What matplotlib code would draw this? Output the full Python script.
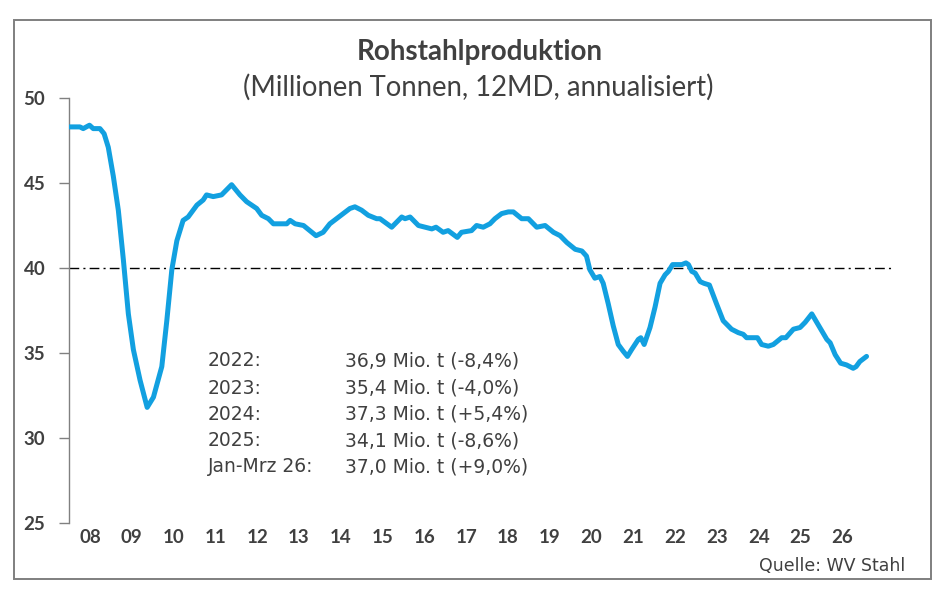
import matplotlib
matplotlib.use("Agg")
import matplotlib.pyplot as plt
from matplotlib.patches import Rectangle

# ---- data (x in years on the chart's axis, value in Mio. t) ----
years = [2008.01, 2008.26, 2008.34, 2008.49, 2008.58, 2008.74, 2008.84, 2008.94,
         2009.06, 2009.18, 2009.30, 2009.42, 2009.54, 2009.70, 2009.87, 2010.02,
         2010.22, 2010.34, 2010.46, 2010.58, 2010.73, 2010.85, 2011.06, 2011.21,
         2011.29, 2011.45, 2011.65, 2011.89, 2012.09, 2012.25, 2012.49, 2012.61,
         2012.77, 2012.89, 2013.21, 2013.29, 2013.41, 2013.61, 2013.91, 2014.08,
         2014.24, 2014.40, 2014.72, 2014.84, 2015.00, 2015.16, 2015.36, 2015.44,
         2015.72, 2015.96, 2016.04, 2016.16, 2016.36, 2016.68, 2016.78, 2016.95,
         2017.07, 2017.29, 2017.39, 2017.63, 2017.75, 2017.91, 2018.07, 2018.19,
         2018.35, 2018.51, 2018.63, 2018.83, 2018.99, 2019.19, 2019.39, 2019.59,
         2019.75, 2019.91, 2020.11, 2020.27, 2020.38, 2020.46, 2020.58, 2020.70,
         2020.78, 2020.90, 2021.02, 2021.14, 2021.26, 2021.36, 2021.46, 2021.62,
         2021.68, 2021.76, 2021.90, 2022.02, 2022.14, 2022.26, 2022.34, 2022.44,
         2022.54, 2022.66, 2022.76, 2022.82, 2022.90, 2022.98, 2023.10, 2023.19,
         2023.32, 2023.49, 2023.65, 2023.85, 2024.01, 2024.13, 2024.21, 2024.47,
         2024.57, 2024.73, 2024.85, 2025.05, 2025.15, 2025.33, 2025.49, 2025.61,
         2025.77, 2025.89, 2026.01, 2026.13, 2026.21, 2026.33, 2026.46, 2026.60,
         2026.76, 2026.83, 2026.92, 2027.08]
values = [48.3, 48.3, 48.2, 48.4, 48.2, 48.2, 47.9, 47.1,
          45.4, 43.4, 40.5, 37.3, 35.2, 33.4, 31.8, 32.4,
          34.2, 36.9, 39.9, 41.6, 42.8, 43.0, 43.7, 44.0,
          44.3, 44.2, 44.3, 44.9, 44.3, 43.9, 43.5, 43.1,
          42.9, 42.6, 42.6, 42.8, 42.6, 42.5, 41.9, 42.1,
          42.6, 42.9, 43.5, 43.6, 43.4, 43.1, 42.9, 42.9,
          42.4, 43.0, 42.9, 43.0, 42.5, 42.3, 42.4, 42.1,
          42.2, 41.8, 42.1, 42.2, 42.5, 42.4, 42.6, 42.9,
          43.2, 43.3, 43.3, 42.9, 42.9, 42.4, 42.5, 42.1,
          41.9, 41.5, 41.1, 41.0, 40.7, 39.9, 39.4, 39.5,
          39.1, 37.9, 36.6, 35.5, 35.1, 34.8, 35.2, 35.8,
          35.9, 35.5, 36.5, 37.7, 39.1, 39.6, 39.8, 40.2,
          40.2, 40.2, 40.3, 40.2, 39.8, 39.7, 39.2, 39.1,
          39.0, 37.9, 36.9, 36.4, 36.2, 36.1, 35.9, 35.9,
          35.5, 35.4, 35.5, 35.9, 35.9, 36.4, 36.5, 36.8,
          37.3, 36.8, 36.3, 35.8, 35.6, 34.9, 34.4, 34.3,
          34.1, 34.2, 34.5, 34.8]

tick_years = list(range(2008, 2027))
tick_labels = ["08", "09", "10", "11", "12", "13", "14", "15", "16", "17",
               "18", "19", "20", "21", "22", "23", "24", "25", "26"]
y_ticks = [25, 30, 35, 40, 45, 50]
ref_level = 40

note_labels = ["2022:", "2023:", "2024:", "2025:", "Jan-Mrz 26:"]
note_values = ["36,9 Mio. t (-8,4%)", "35,4 Mio. t (-4,0%)", "37,3 Mio. t (+5,4%)",
               "34,1 Mio. t (-8,6%)", "37,0 Mio. t (+9,0%)"]

title = "Rohstahlproduktion"
subtitle = "(Millionen Tonnen, 12MD, annualisiert)"
source = "Quelle: WV Stahl"

# ---- figure ----
plt.rcParams['font.family'] = ['Lato', 'DejaVu Sans']
W, H = 947, 592
fig = plt.figure(figsize=(W / 100, H / 100), dpi=100)
txt = "#404040"
grey = "#808080"
wide = ['DejaVu Sans']

# outer frame
fig.patches.append(Rectangle((14 / W, 1 - 579 / H), (931 - 14) / W, (579 - 19.5) / H,
                             transform=fig.transFigure, fill=False,
                             edgecolor="#7f7f7f", linewidth=1.4))

ax = fig.add_axes([69 / W, 1 - 523 / H, (892 - 69) / W, (523 - 98) / H])
ax.plot(years, values, color="#12A0E0", linewidth=3.6, solid_capstyle="round",
        solid_joinstyle="round", zorder=3)
ax.axhline(ref_level, color="black", linewidth=1.0, linestyle=(0, (7, 3, 1.5, 3)), zorder=2)

ax.set_xlim(2008.0, 2008.0 + (892 - 69) / 41.8)
ax.set_ylim(25, 50)
ax.set_yticks(y_ticks)
ax.set_yticklabels([str(v) for v in y_ticks], fontsize=13.5, fontweight="bold", color=txt)
ax.set_xticks([y + 0.5 for y in tick_years])
ax.set_xticklabels(tick_labels, fontsize=13.5, fontweight="bold", color=txt)
ax.tick_params(axis="x", length=0, pad=4)
ax.tick_params(axis="y", length=7, color=grey, width=1, pad=10)
for s in ["top", "right", "bottom"]:
    ax.spines[s].set_visible(False)
ax.spines["left"].set_color(grey)
ax.spines["left"].set_linewidth(1)

# title texts
fig.text(480 / W, 1 - 52 / H, title, ha="center", va="center", fontsize=20,
         fontweight="bold", color=txt)
fig.text(478 / W, 1 - 87 / H, subtitle, ha="center", va="center", fontsize=19.8,
         color=txt)

# notes
row_y = [361, 388, 414, 441, 467]
for lab, val, yy in zip(note_labels, note_values, row_y):
    fig.text(208 / W, 1 - yy / H, lab, ha="left", va="center", fontsize=13.5,
             color=txt, family=wide)
    fig.text(345 / W, 1 - yy / H, val, ha="left", va="center", fontsize=13.5,
             color=txt, family=wide)

fig.text(905 / W, 1 - 566 / H, source, ha="right", va="center", fontsize=12.5,
         color=txt, family=wide)

fig.savefig("out.png", dpi=100)
